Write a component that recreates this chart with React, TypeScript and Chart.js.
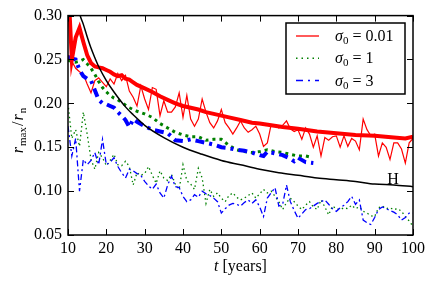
import React, { useEffect, useRef } from "react";
import { Chart, registerables } from "chart.js";

Chart.register(...registerables);

const SERIF = '"Liberation Serif", "Times New Roman", serif';

const xTicks = [10, 20, 30, 40, 50, 60, 70, 80, 90, 100];
const yTicks = [0.05, 0.1, 0.15, 0.2, 0.25, 0.3];

const yearsThin = Array.from({ length: 91 }, (_, i) => 10 + i);

// sigma0 = 0.01, single run (thin)
const thinRed = [
  0.255, 0.248, 0.240, 0.236, 0.233, 0.222, 0.212, 0.226, 0.229, 0.224,
  0.219, 0.228, 0.222, 0.234, 0.226, 0.232, 0.214, 0.207, 0.197, 0.220,
  0.205, 0.193, 0.218, 0.216, 0.186, 0.203, 0.190, 0.190, 0.196, 0.212,
  0.184, 0.209, 0.182, 0.174, 0.182, 0.205, 0.190, 0.178, 0.172, 0.180,
  0.193, 0.178, 0.172, 0.165, 0.172, 0.180, 0.172, 0.167, 0.170, 0.174,
  0.165, 0.151, 0.155, 0.176, 0.175, 0.172, 0.175, 0.180, 0.171, 0.168,
  0.170, 0.159, 0.172, 0.165, 0.150, 0.163, 0.140, 0.161, 0.158, 0.162,
  0.163, 0.150, 0.163, 0.151, 0.160, 0.157, 0.147, 0.182, 0.170, 0.163,
  0.165, 0.140, 0.155, 0.150, 0.136, 0.155, 0.155, 0.148, 0.132, 0.155,
  0.160,
];

// sigma0 = 1, single run (thin)
const thinGreen = [
  0.200, 0.160, 0.170, 0.151, 0.190, 0.165, 0.136, 0.125, 0.144, 0.138,
  0.129, 0.135, 0.142, 0.130, 0.129, 0.134, 0.128, 0.107, 0.121, 0.118,
  0.120, 0.128, 0.118, 0.109, 0.123, 0.115, 0.112, 0.119, 0.108, 0.102,
  0.130, 0.112, 0.108, 0.102, 0.126, 0.115, 0.086, 0.102, 0.094, 0.098,
  0.092, 0.088, 0.095, 0.098, 0.093, 0.090, 0.092, 0.095, 0.098, 0.092,
  0.097, 0.102, 0.098, 0.100, 0.094, 0.088, 0.079, 0.087, 0.092, 0.088,
  0.083, 0.079, 0.084, 0.088, 0.082, 0.079, 0.090, 0.082, 0.073, 0.083,
  0.080, 0.079, 0.081, 0.080, 0.084, 0.080, 0.082, 0.077, 0.075, 0.072,
  0.071, 0.081, 0.083, 0.080, 0.081, 0.079, 0.080, 0.077, 0.071, 0.066,
  0.060,
];

// sigma0 = 3, single run (thin)
const thinBlue = [
  0.174, 0.140, 0.160, 0.100, 0.136, 0.130, 0.135, 0.144, 0.130, 0.159,
  0.130, 0.133, 0.138, 0.128, 0.121, 0.115, 0.125, 0.123, 0.120, 0.118,
  0.111, 0.106, 0.102, 0.108, 0.098, 0.092, 0.107, 0.117, 0.105, 0.104,
  0.094, 0.088, 0.090, 0.096, 0.093, 0.100, 0.097, 0.095, 0.092, 0.088,
  0.075, 0.080, 0.084, 0.086, 0.085, 0.083, 0.087, 0.090, 0.086, 0.090,
  0.082, 0.071, 0.092, 0.098, 0.104, 0.083, 0.085, 0.107, 0.088, 0.078,
  0.069, 0.074, 0.079, 0.080, 0.083, 0.086, 0.088, 0.090, 0.085, 0.080,
  0.077, 0.081, 0.084, 0.088, 0.094, 0.085, 0.090, 0.067, 0.064, 0.062,
  0.070, 0.079, 0.082, 0.080, 0.078, 0.076, 0.073, 0.067, 0.070, 0.075,
  0.075,
];

// sigma0 = 0.01, mean (thick)
const thickRedYears = [
  10, 11, 12, 13, 14, 15, 16, 17, 18, 19, 20, 21, 22, 23, 24, 25, 26, 27, 28, 29, 30,
  32, 34, 36, 38, 40, 42, 44, 46, 48, 50, 52, 55, 58, 60, 63, 66, 70, 75, 80, 85, 90, 95, 98, 100,
];
const thickRed = [
  0.340, 0.250, 0.275, 0.286, 0.270, 0.255, 0.246, 0.242, 0.241, 0.240, 0.238, 0.236, 0.233, 0.231, 0.232, 0.228, 0.227, 0.224, 0.221, 0.219, 0.217,
  0.213, 0.208, 0.204, 0.200, 0.197, 0.195, 0.193, 0.190, 0.188, 0.186, 0.184, 0.181, 0.178, 0.177, 0.175, 0.173, 0.171, 0.168, 0.166, 0.164, 0.163, 0.161, 0.160, 0.162,
];

// sigma0 = 1, mean (thick)
const thickGreenYears = [
  10, 11, 12, 13, 14, 15, 16, 17, 18, 19, 20, 21, 22, 23, 24, 25, 26, 27, 28, 30,
  32, 34, 36, 38, 40, 42, 44, 46, 48, 50, 52, 54, 56, 58, 60, 62, 64, 66, 68, 70, 72, 73,
];
const thickGreen = [
  0.249, 0.248, 0.247, 0.248, 0.250, 0.245, 0.240, 0.233, 0.225, 0.218, 0.213, 0.209, 0.206, 0.204, 0.201, 0.198, 0.195, 0.193, 0.191, 0.188,
  0.184, 0.177, 0.172, 0.167, 0.164, 0.162, 0.162, 0.158, 0.159, 0.159, 0.152, 0.147, 0.145, 0.144, 0.145, 0.147, 0.145, 0.144, 0.142, 0.140, 0.140, 0.139,
];

// sigma0 = 3, mean (thick)
const thickBlueYears = [
  10, 11, 12, 13, 14, 15, 16, 17, 18, 19, 20, 21, 22, 23, 24, 25, 26, 27, 28, 30,
  32, 34, 36, 38, 40, 42, 44, 46, 48, 50, 52, 54, 56, 58, 60, 61, 62, 64, 66, 68, 69, 70, 72, 74,
];
const thickBlue = [
  0.253, 0.251, 0.250, 0.238, 0.231, 0.228, 0.226, 0.215, 0.204, 0.200, 0.199, 0.197, 0.195, 0.190, 0.186, 0.181, 0.173, 0.182, 0.179, 0.174,
  0.170, 0.168, 0.166, 0.158, 0.157, 0.159, 0.157, 0.155, 0.153, 0.150, 0.149, 0.147, 0.146, 0.144, 0.141, 0.140, 0.145, 0.143, 0.141, 0.137, 0.134, 0.138, 0.133, 0.132,
];

// H curve
const hYears = [12, 13, 14, 15, 16, 17, 18, 20, 22, 25, 27, 30, 35, 40, 45, 50, 55, 60, 65, 70, 75, 80, 85, 90, 95, 100];
const hValues = [
  0.330, 0.303, 0.290, 0.276, 0.263, 0.252, 0.242, 0.226, 0.213, 0.196, 0.187, 0.175, 0.161, 0.150, 0.142, 0.135, 0.130, 0.125, 0.121, 0.118, 0.115, 0.113, 0.111, 0.108, 0.107, 0.105,
];

const legendLabels = ["0.01", "1", "3"];
const hLabel = { text: "H", t: 94.8, v: 0.115 };

const RED = "#ff0000";
const GREEN = "#008000";
const BLUE = "#0000ff";

const pts = (xs: number[], ys: number[]) => xs.map((x, i) => ({ x, y: ys[i] }));

export default function App() {
  const ref = useRef<HTMLCanvasElement | null>(null);

  useEffect(() => {
    document.body.style.margin = "0";
    const canvas = ref.current;
    if (!canvas) return;

    const legendItems = [
      { color: RED, width: 1.3, dash: [] as number[], label: legendLabels[0] },
      { color: GREEN, width: 1.5, dash: [1.5, 4], label: legendLabels[1] },
      { color: BLUE, width: 1.5, dash: [7, 5, 2, 5], label: legendLabels[2] },
    ];

    const decor = {
      id: "decor",
      afterDraw(chart: any) {
        const ctx = chart.ctx as CanvasRenderingContext2D;
        const ca = chart.chartArea;
        const xs = chart.scales.x;
        const ys = chart.scales.y;
        ctx.save();
        // frame
        ctx.strokeStyle = "#000";
        ctx.lineWidth = 1.5;
        ctx.setLineDash([]);
        ctx.strokeRect(ca.left, ca.top, ca.right - ca.left, ca.bottom - ca.top);
        // inward ticks
        ctx.lineWidth = 1;
        const tl = 6;
        ctx.beginPath();
        xTicks.forEach((t) => {
          const px = Math.round(xs.getPixelForValue(t)) + 0.5;
          ctx.moveTo(px, ca.bottom);
          ctx.lineTo(px, ca.bottom - tl);
          ctx.moveTo(px, ca.top);
          ctx.lineTo(px, ca.top + tl);
        });
        yTicks.forEach((v) => {
          const py = Math.round(ys.getPixelForValue(v)) + 0.5;
          ctx.moveTo(ca.left, py);
          ctx.lineTo(ca.left + tl, py);
          ctx.moveTo(ca.right, py);
          ctx.lineTo(ca.right - tl, py);
        });
        ctx.stroke();

        ctx.fillStyle = "#000";
        ctx.textBaseline = "alphabetic";
        // H label
        ctx.font = `16px ${SERIF}`;
        ctx.textAlign = "center";
        ctx.fillText(hLabel.text, xs.getPixelForValue(hLabel.t), ys.getPixelForValue(hLabel.v) + 6);

        // x title: t [years]
        ctx.textAlign = "left";
        const itF = `italic 16px ${SERIF}`;
        const rmF = `16px ${SERIF}`;
        ctx.font = itF;
        const wT = ctx.measureText("t").width;
        ctx.font = rmF;
        const wY = ctx.measureText(" [years]").width;
        const cx = (ca.left + ca.right) / 2;
        let x0 = cx - (wT + wY) / 2;
        ctx.font = itF;
        ctx.fillText("t", x0, 271);
        ctx.font = rmF;
        ctx.fillText(" [years]", x0 + wT, 271);

        // y title: r_max / r_n
        ctx.save();
        ctx.translate(23, 130);
        ctx.rotate(-Math.PI / 2);
        const parts = [
          { s: "r", f: itF, dy: 0 },
          { s: "max", f: `11px ${SERIF}`, dy: 3 },
          { s: "/", f: rmF, dy: 0 },
          { s: "r", f: itF, dy: 0 },
          { s: "n", f: `11px ${SERIF}`, dy: 3 },
        ];
        let total = 0;
        parts.forEach((p) => {
          ctx.font = p.f;
          total += ctx.measureText(p.s).width + 1;
        });
        let px = -total / 2;
        parts.forEach((p) => {
          ctx.font = p.f;
          ctx.fillText(p.s, px, p.dy);
          px += ctx.measureText(p.s).width + 1;
        });
        ctx.restore();

        // legend box
        const bx = 286, by = 23, bw = 119, bh = 71;
        ctx.fillStyle = "#fff";
        ctx.fillRect(bx, by, bw, bh);
        ctx.strokeStyle = "#000";
        ctx.lineWidth = 1.5;
        ctx.strokeRect(bx, by, bw, bh);
        legendItems.forEach((it, i) => {
          const ly = 36 + i * 22.3;
          ctx.save();
          ctx.strokeStyle = it.color;
          ctx.lineWidth = it.width;
          ctx.setLineDash(it.dash);
          ctx.beginPath();
          ctx.moveTo(296, ly);
          ctx.lineTo(319, ly);
          ctx.stroke();
          ctx.restore();
          ctx.fillStyle = "#000";
          let tx = 335;
          const base = ly + 5;
          ctx.font = `italic 16px ${SERIF}`;
          ctx.fillText("σ", tx, base);
          tx += ctx.measureText("σ").width;
          ctx.font = `11px ${SERIF}`;
          ctx.fillText("0", tx, base + 3);
          tx += ctx.measureText("0").width;
          ctx.font = `16px ${SERIF}`;
          ctx.fillText(" = " + it.label, tx, base);
        });
        ctx.restore();
      },
    };

    const base = {
      pointRadius: 0,
      fill: false,
      borderCapStyle: "butt" as const,
      borderJoinStyle: "miter" as const,
    };

    const chart = new Chart(canvas, {
      type: "line",
      data: {
        datasets: [
          { ...base, label: "H", data: pts(hYears, hValues), borderColor: "#000", borderWidth: 1.5, cubicInterpolationMode: "monotone" },
          { ...base, label: "mean 0.01", data: pts(thickRedYears, thickRed), borderColor: RED, borderWidth: 4 },
          { ...base, label: "mean 3", data: pts(thickBlueYears, thickBlue), borderColor: BLUE, borderWidth: 4, borderDash: [9, 5, 3, 5] },
          { ...base, label: "mean 1", data: pts(thickGreenYears, thickGreen), borderColor: GREEN, borderWidth: 3, borderDash: [3, 4] },
          { ...base, label: "0.01", data: pts(yearsThin, thinRed), borderColor: RED, borderWidth: 1.2 },
          { ...base, label: "3", data: pts(yearsThin, thinBlue), borderColor: BLUE, borderWidth: 1.3, borderDash: [6, 3, 2, 3] },
          { ...base, label: "1", data: pts(yearsThin, thinGreen), borderColor: GREEN, borderWidth: 1.3, borderDash: [1.5, 3] },
        ],
      },
      options: {
        animation: false,
        responsive: false,
        maintainAspectRatio: false,
        parsing: false as any,
        normalized: true,
        layout: { padding: { top: 15, right: 23, left: 0, bottom: 0 } },
        plugins: { legend: { display: false }, tooltip: { enabled: false } },
        scales: {
          x: {
            type: "linear",
            min: 10,
            max: 100,
            grid: { display: false, drawTicks: false },
            border: { display: false },
            ticks: { font: { family: SERIF, size: 16 }, color: "#000", padding: 4, maxRotation: 0 },
            afterBuildTicks: (s: any) => {
              s.ticks = xTicks.map((v) => ({ value: v }));
            },
            afterFit: (s: any) => {
              s.height = 51;
            },
          },
          y: {
            type: "linear",
            min: 0.05,
            max: 0.3,
            grid: { display: false, drawTicks: false },
            border: { display: false },
            ticks: {
              font: { family: SERIF, size: 16 },
              color: "#000",
              padding: 6,
              callback: (v: any) => Number(v).toFixed(2),
            },
            afterBuildTicks: (s: any) => {
              s.ticks = yTicks.map((v) => ({ value: v }));
            },
            afterFit: (s: any) => {
              s.width = 68;
            },
          },
        },
      },
      plugins: [decor],
    });

    return () => chart.destroy();
  }, []);

  return (
    <div style={{ width: 436, height: 286 }}>
      <canvas ref={ref} width={436} height={286} style={{ display: "block" }} />
    </div>
  );
}
